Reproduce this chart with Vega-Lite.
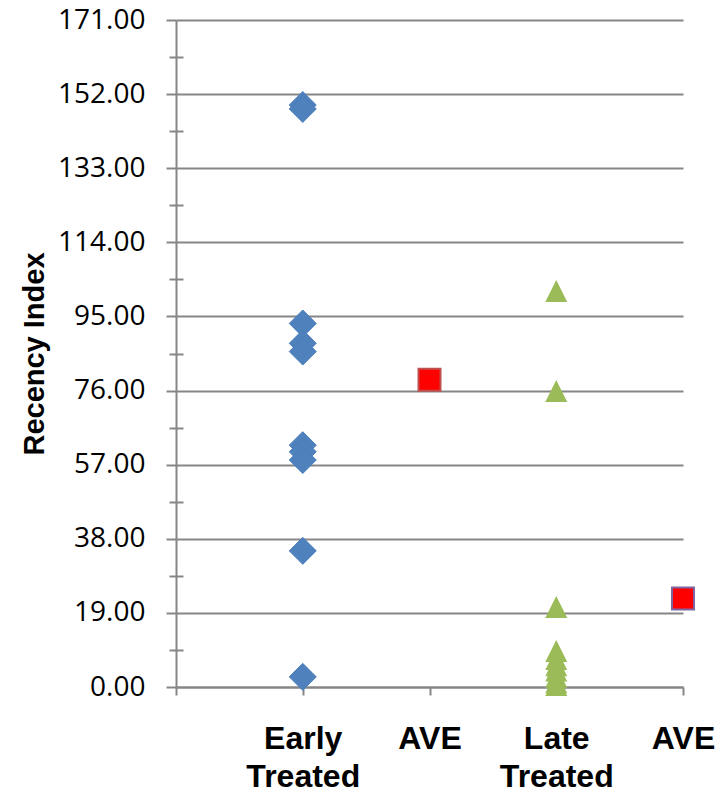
{
  "$schema": "https://vega.github.io/schema/vega-lite/v6.json",
  "autosize": {"type": "none"},
  "padding": {"left": 176, "top": 20, "right": 42, "bottom": 108},
  "width": 507,
  "height": 667,
  "background": "white",
  "config": {
    "view": {"stroke": null},
    "axis": {"domainColor": "#868686", "tickColor": "#868686", "gridColor": "#868686"}
  },
  "data": {
    "values": [
      {"group": "Early Treated", "series": "Early Treated", "value": 149.2},
      {"group": "Early Treated", "series": "Early Treated", "value": 148.2},
      {"group": "Early Treated", "series": "Early Treated", "value": 93.2},
      {"group": "Early Treated", "series": "Early Treated", "value": 88.1},
      {"group": "Early Treated", "series": "Early Treated", "value": 86.0},
      {"group": "Early Treated", "series": "Early Treated", "value": 62.0},
      {"group": "Early Treated", "series": "Early Treated", "value": 60.3},
      {"group": "Early Treated", "series": "Early Treated", "value": 58.2},
      {"group": "Early Treated", "series": "Early Treated", "value": 34.9},
      {"group": "Early Treated", "series": "Early Treated", "value": 2.6},
      {"group": "Early AVE", "series": "Early AVE", "value": 78.8},
      {"group": "Late Treated", "series": "Late Treated", "value": 101.5},
      {"group": "Late Treated", "series": "Late Treated", "value": 75.9},
      {"group": "Late Treated", "series": "Late Treated", "value": 20.5},
      {"group": "Late Treated", "series": "Late Treated", "value": 9.2},
      {"group": "Late Treated", "series": "Late Treated", "value": 7.2},
      {"group": "Late Treated", "series": "Late Treated", "value": 5.6},
      {"group": "Late Treated", "series": "Late Treated", "value": 4.2},
      {"group": "Late Treated", "series": "Late Treated", "value": 2.6},
      {"group": "Late Treated", "series": "Late Treated", "value": 1.2},
      {"group": "Late Treated", "series": "Late Treated", "value": 0.5},
      {"group": "Late AVE", "series": "Late AVE", "value": 22.7}
    ]
  },
  "encoding": {
    "x": {
      "field": "group",
      "type": "ordinal",
      "scale": {"type": "point", "domain": ["", "Early Treated", "Early AVE", "Late Treated", "Late AVE"], "padding": 0},
      "axis": {
        "title": null,
        "grid": false,
        "domainWidth": 2,
        "tickWidth": 2,
        "tickSize": 8,
        "labelAngle": 0,
        "labelFont": "Liberation Sans",
        "labelFontWeight": "bold",
        "labelFontSize": 32,
        "labelColor": "black",
        "labelPadding": 28,
        "labelBaseline": "top",
        "labelLineHeight": 38,
        "labelExpr": "datum.value == 'Early Treated' ? ['Early', 'Treated'] : datum.value == 'Late Treated' ? ['Late', 'Treated'] : (datum.value == 'Early AVE' || datum.value == 'Late AVE') ? 'AVE' : ''"
      }
    },
    "y": {
      "field": "value",
      "type": "quantitative",
      "scale": {"domain": [0, 171], "nice": false, "zero": true}
    }
  },
  "layer": [
    {
      "mark": {"type": "point", "opacity": 0, "size": 0},
      "encoding": {
        "y": {
          "field": "value",
          "type": "quantitative",
          "axis": {
            "orient": "left",
            "offset": -7,
            "values": [9.5, 28.5, 47.5, 66.5, 85.5, 104.5, 123.5, 142.5, 161.5],
            "tickSize": 14,
            "tickWidth": 2,
            "labels": false,
            "domain": false,
            "grid": false,
            "title": null
          }
        }
      }
    },
    {
      "transform": [{"filter": "datum.series == 'Early Treated'"}],
      "mark": {"type": "point", "shape": "diamond", "filled": true, "size": 729, "color": "#4F81BD", "stroke": "#4A7EBB", "strokeWidth": 1, "opacity": 1},
      "encoding": {
        "y": {
          "field": "value",
          "type": "quantitative",
          "axis": {
            "orient": "left",
            "values": [0, 19, 38, 57, 76, 95, 114, 133, 152, 171],
            "format": ".2f",
            "tickSize": 10,
            "tickWidth": 2,
            "domainWidth": 2,
            "grid": true,
            "gridWidth": 2,
            "labelFont": "Open Sans",
            "labelFontSize": 28,
            "labelColor": "black",
            "labelPadding": 21,
            "title": "Recency Index",
            "titleFont": "Liberation Sans",
            "titleFontSize": 29,
            "titleFontWeight": "bold",
            "titleColor": "black",
            "titlePadding": 8
          }
        }
      }
    },
    {
      "transform": [{"filter": "datum.series == 'Late Treated'"}],
      "mark": {"type": "point", "shape": "M0,-1L1,1L-1,1Z", "filled": true, "size": 484, "color": "#9BBB59", "opacity": 1},
      "encoding": {"y": {"field": "value", "type": "quantitative", "axis": null}}
    },
    {
      "transform": [{"filter": "datum.series == 'Early AVE'"}],
      "mark": {"type": "point", "shape": "square", "filled": true, "size": 484, "fill": "#FF0000", "stroke": "#C0504D", "strokeWidth": 2, "opacity": 1},
      "encoding": {"y": {"field": "value", "type": "quantitative", "axis": null}}
    },
    {
      "transform": [{"filter": "datum.series == 'Late AVE'"}],
      "mark": {"type": "point", "shape": "square", "filled": true, "size": 484, "fill": "#FF0000", "stroke": "#8064A2", "strokeWidth": 2, "opacity": 1},
      "encoding": {"y": {"field": "value", "type": "quantitative", "axis": null}}
    }
  ],
  "resolve": {"axis": {"y": "independent"}}
}
